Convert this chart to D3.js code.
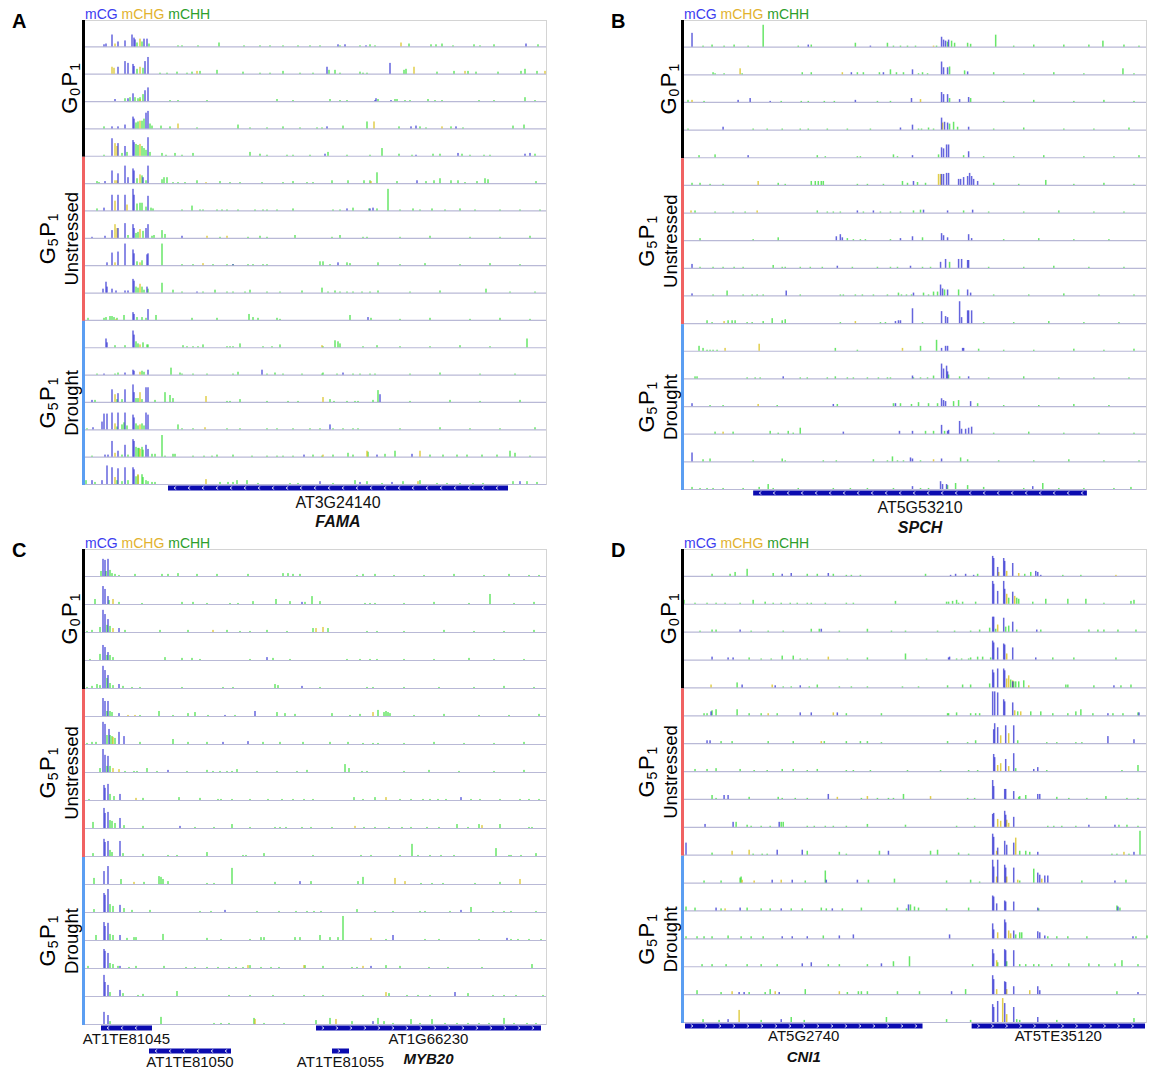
<!DOCTYPE html>
<html>
<head>
<meta charset="utf-8">
<script src="https://cdn.jsdelivr.net/npm/d3@7"></script>
<style>
  body { margin: 0; background: #fff; }
  svg { display: block; font-family: "Liberation Sans", Arial, Helvetica, sans-serif; }
</style>
</head>
<body>
<svg id="fig" width="1149" height="1069"></svg>
<script>
// Methylation tracks: one string per sample track, tokens "bin:level"
// bin = 10-bp bin inside the displayed locus (0..462), level = % methylation.

const sampleGroups = ["G0P1", "G5P1 Unstressed", "G5P1 Drought"];
const tracksPerGroup = [5, 6, 6];
const contexts = ["mCG", "mCHG", "mCHH"];

// ---- A: FAMA locus ----
const famaCG = [
  "20:8 22:11 28:46 34:19 41:23 48:46 50:34 51:27 60:30 63:30 254:8 261:8 282:4 442:11",
  "34:27 41:49 44:42 49:38 50:30 61:49 64:65 243:27 306:42",
  "31:8 44:11 49:30 61:42 64:53 291:4 292:11 307:4",
  "28:8 34:8 41:15 49:46 50:38 62:61 64:68 243:8 327:8 332:11 372:8",
  "28:68 34:49 41:38 49:61 50:53 64:72 241:8 332:4 374:11 441:8 446:11",
  "21:8 28:49 34:38 41:68 44:23 49:57 50:49 59:23 64:68 333:11",
  "20:11 28:61 34:61 41:61 49:84 50:61 64:57 263:8 286:8 289:11",
  "8:4 21:8 28:30 34:38 41:57 49:53 50:38 62:38 64:53 98:8",
  "23:11 28:49 34:53 41:84 49:61 50:46 63:42 64:46 149:4 254:11",
  "19:15 22:42 23:23 28:15 32:8 41:8 44:8 49:53 50:46 63:23 113:4",
  "49:30 50:23 64:42 284:11",
  "22:34 23:19 49:65 50:49",
  "20:4 41:8 49:19 50:15 64:19 178:19 259:8",
  "8:8 28:49 34:34 41:49 49:68 50:38 62:57 64:57 296:30",
  "9:8 18:30 20:61 23:61 28:65 34:65 41:65 49:57 50:46 62:65 64:57 246:19",
  "21:8 24:8 28:61 34:23 41:46 49:68 50:61 62:46 64:30 220:8 293:8 328:11",
  "8:15 18:15 23:72 28:65 34:61 41:65 49:65 50:57 236:11 276:8 308:8 436:11"
];
const famaCHG = [
  "31:11 56:30 317:15",
  "28:27 30:23 56:27 113:11 330:27 381:11 461:11",
  "56:8",
  "56:30 94:19 290:27 358:8",
  "31:49 33:38 56:46",
  "31:11 33:11 56:34 122:4 287:8",
  "31:38 43:23",
  "31:53 33:38 56:34 123:8 143:8",
  "31:11 56:11 119:8",
  "56:34",
  "32:4",
  "56:11 238:8",
  "56:11",
  "31:30 56:38 122:23 239:19",
  "31:23 56:19 121:8",
  "31:15 56:30 239:8 283:23 336:23",
  "31:27 54:38 122:19 334:11"
];
const famaCHH = [
  "53:15 58:19 65:11 94:4 98:4 114:4 135:15 160:4 176:4 186:4 199:4 214:4 226:4 236:4 256:4 276:4 286:8 291:4 325:11 347:8 352:8 358:11 369:4 390:8 396:4 410:8 454:8",
  "53:19 59:23 76:4 83:4 93:8 103:4 108:8 116:11 133:15 159:8 176:4 186:4 199:11 216:4 229:4 245:15 251:15 256:4 276:8 279:4 283:4 320:15 322:19 353:8 370:11 384:11 392:8 414:8 437:11 441:19 453:11",
  "41:11 46:15 51:15 54:11 56:15 59:27 86:4 94:4 123:4 193:8 209:4 246:8 256:4 263:4 294:8 311:8 313:8 321:4 326:4 344:8 351:4 358:4 395:4 410:4 441:15 451:4",
  "20:8 52:23 54:27 58:30 60:38 66:19 68:11 77:11 86:8 113:4 154:15 166:4 183:4 199:8 216:4 233:4 238:4 259:11 283:27 315:8 336:8 342:4 367:8 379:4 429:11 440:15",
  "20:4 38:11 43:15 52:46 54:42 58:38 60:30 62:23 66:15 78:11 82:4 91:11 98:4 109:11 166:15 176:8 183:4 203:4 209:4 226:4 244:15 263:4 286:4 298:30 315:8 328:4 349:8 356:8 378:8 386:4 400:4 406:4 451:8",
  "13:8 15:4 53:19 58:30 62:11 78:15 80:23 83:23 89:4 94:4 101:4 113:11 136:8 146:4 156:4 178:4 199:4 209:8 223:4 229:4 248:11 264:11 280:11 286:11 293:42 313:8 342:8 350:11 356:19 367:11 374:11 381:4 393:8 401:19 404:15 452:8",
  "13:8 53:27 56:30 58:30 62:15 67:11 69:8 98:4 108:19 116:4 119:4 133:4 138:4 143:4 154:4 171:4 179:4 183:4 193:4 209:8 249:4 256:4 269:11 285:8 293:8 304:84 316:4 329:8 336:4 348:8 361:4 376:8 391:4 416:4 436:4 456:4",
  "44:11 52:19 54:23 59:27 68:8 70:11 78:30 81:15 136:4 164:4 176:8 183:4 211:11 248:4 256:11 279:4 283:4 316:4 346:8 386:4 416:4 446:8",
  "53:15 58:19 78:84 98:4 109:4 129:4 143:4 149:4 164:4 169:4 179:4 183:4 236:15 239:15 246:4 263:11 266:8 294:11 316:4 341:8 376:4 406:8 436:4",
  "52:23 54:19 58:23 60:11 64:15 78:38 89:11 98:4 119:4 131:11 143:4 149:4 161:4 166:11 183:4 196:4 218:8 238:19 244:4 251:8 256:4 263:4 269:4 278:4 286:4 294:8 326:4 356:8 402:15 426:4 451:4",
  "4:8 20:8 22:11 26:15 28:15 30:11 33:8 40:19 53:11 58:11 62:8 72:19 108:8 133:8 165:23 169:11 174:8 193:8 196:4 266:19 287:8 316:4 346:8 386:4 416:8 446:4",
  "31:8 41:8 52:23 54:15 59:19 63:11 64:11 99:8 103:4 109:4 114:4 119:11 143:4 146:4 149:4 156:15 179:4 188:4 196:11 239:4 251:27 254:23 256:15 279:4 293:8 316:4 346:4 376:8 406:4 443:34",
  "13:4 31:4 34:8 58:15 60:11 87:27 96:8 98:4 109:4 123:4 149:4 154:11 183:4 191:8 199:4 218:4 238:4 239:8 253:4 269:4 276:4 286:4 291:4 326:4 356:8 396:4 431:4",
  "11:8 33:11 38:11 52:15 54:15 58:11 71:8 81:38 86:27 89:15 143:4 146:4 156:11 183:4 204:4 214:4 246:11 250:4 263:4 271:4 274:4 289:8 294:46 326:4 366:8 396:4 436:8",
  "3:4 33:11 38:19 40:27 43:15 52:23 54:15 58:23 60:15 94:19 98:4 109:4 143:4 156:4 183:4 193:4 209:4 226:4 236:4 249:4 259:4 269:4 274:4 316:4 356:8 386:4 416:4 451:8",
  "8:4 38:8 44:8 52:38 54:34 55:34 58:38 59:27 68:11 71:11 78:84 81:4 89:11 91:11 109:4 120:4 128:4 133:8 149:8 168:4 183:4 193:4 199:4 209:4 229:8 238:4 249:8 264:15 269:8 284:19 301:11 311:23 346:8 359:8 373:8 383:8 398:8 413:8 426:23 431:15 446:4",
  "2:15 11:8 33:15 38:11 44:15 52:30 54:34 58:38 59:27 62:15 64:11 68:8 71:8 136:8 144:8 149:8 153:15 163:15 174:4 206:4 214:4 249:4 271:15 283:11 298:4 319:11 336:15 353:4 363:4 376:4 389:4 399:4 429:11 443:11 453:8"
];
// [id, start bin, end bin, strand, row, symbol]
const famaGenes = [["AT3G24140", 84, 424, "-", 0, "FAMA"]];

// ---- B: SPCH locus ----
const spchCG = [
  "9:53 125:8 187:4 258:38 260:27 262:23 265:27",
  "168:8 200:8 229:19 258:49 260:27 264:27 284:11",
  "55:8 67:15 87:4 172:8 228:15 258:38 260:30 264:30 276:11 285:19",
  "40:11 217:8 229:19 258:46 261:30 264:27 285:11",
  "65:8 229:8 258:38 260:34 263:49 265:49 285:23",
  "230:15 258:42 260:42 263:46 265:46 275:23 277:23 280:30 284:34 286:46 288:34 290:23 294:15",
  "174:8 190:8 240:11 264:8 289:11",
  "153:15 157:23 159:11 217:8 229:15 258:27 260:19 264:11 285:23 288:8",
  "9:15 154:8 227:8 257:23 262:34 275:34 278:34 284:30 285:30",
  "9:8 103:19 230:11 257:42 259:27 264:23 284:23 287:11",
  "212:8 215:11 217:11 229:57 258:46 262:27 264:23 276:84 278:23 284:49 285:49 288:49",
  "258:11 262:19 264:19 279:11 280:11",
  "100:8 229:11 258:57 260:38 263:49 264:27 285:8",
  "9:11 150:8 212:11 258:30 260:23 262:19 287:19",
  "160:8 216:11 229:11 258:34 264:11 265:15 276:49 278:19 282:19 285:23 288:27",
  "9:34 227:15 229:11 258:11",
  "229:11 257:30 259:19 263:19 349:11"
];
const spchCHG = [
  "250:4", "57:23 159:8", "9:8 237:11", "259:27", "", "75:15 255:42 257:42",
  "8:8 74:8", "", "", "", "41:8 172:8", "42:11 76:27 219:11", "", "75:8", "40:8", "250:8", ""
];
const spchCHH = [
  "20:4 29:8 41:4 51:8 65:4 80:84 115:4 128:8 172:15 204:15 210:4 217:4 224:4 232:4 253:4 264:19 268:23 271:15 284:15 287:11 312:46 330:4 350:8 380:8 405:8 419:23 440:8 455:4",
  "30:8 32:4 41:4 59:4 119:8 128:8 174:8 180:8 196:8 207:19 213:8 220:8 235:4 239:8 244:4 266:30 281:15 310:8 340:4 370:8 400:4 439:23 450:4",
  "5:8 21:4 98:4 118:4 125:4 141:4 151:4 194:4 207:4 266:15 287:15 320:4 350:8 390:4 420:8 450:4",
  "5:4 70:4 84:4 99:4 117:4 125:4 144:4 164:4 187:4 235:4 238:4 245:8 250:4 266:23 270:30 274:11 310:4 340:8 380:4 410:4 445:8",
  "16:8 32:11 134:8 142:4 174:4 177:4 210:11 214:4 255:11 280:8 300:4 330:4 360:8 400:4 430:4 455:8",
  "9:8 17:8 27:4 40:4 95:8 102:4 128:15 132:15 135:15 138:15 140:15 174:4 184:4 200:4 219:15 224:8 234:11 242:8 310:8 335:4 362:19 390:4 420:8 450:4",
  "12:8 32:4 50:4 62:4 134:8 144:4 150:4 157:4 180:4 197:4 207:4 217:4 230:8 237:11 280:8 305:4 340:4 375:8 410:4 440:4",
  "17:8 70:4 95:11 164:8 170:4 177:4 182:4 207:4 239:11 320:4 355:8 390:4 425:4",
  "17:4 30:4 40:4 51:4 60:4 90:11 99:4 102:4 117:4 127:4 139:4 169:4 194:4 207:4 214:4 239:4 247:4 266:23 305:4 340:4 370:8 405:4 440:4",
  "30:4 44:19 60:4 69:4 74:4 80:4 117:4 157:4 160:4 172:4 179:4 190:4 204:4 215:11 218:4 223:4 228:4 240:11 245:4 250:15 254:15 261:23 275:23 310:4 345:4 380:8 415:4 450:4",
  "24:11 29:4 45:11 49:11 52:11 64:4 69:4 80:8 89:19 99:11 102:15 157:4 197:4 202:4 239:4 300:4 330:4 365:8 400:4 435:4",
  "16:19 20:11 24:4 27:4 30:4 34:4 152:11 174:4 237:19 253:42 295:8 320:4 350:4 390:8 420:4 450:8",
  "12:8 14:8 64:4 72:4 77:4 117:4 124:4 144:4 152:8 164:4 170:4 184:4 195:4 204:4 207:4 230:4 237:4 244:4 250:11 265:15 276:8 305:4 340:8 375:4 410:4 445:4",
  "27:4 40:4 94:4 154:8 210:11 217:11 228:8 235:15 245:11 254:11 270:19 275:23 294:11 320:4 355:4 390:8 425:4",
  "32:8 50:8 87:11 95:4 105:11 110:4 117:23 242:11 250:11 261:11 310:4 345:8 380:4 415:4 450:4",
  "20:8 27:11 70:4 99:11 102:4 140:4 153:4 190:8 204:4 209:19 214:4 220:4 237:4 277:15 284:8 315:4 350:4 385:8 420:4 455:4",
  "9:8 17:4 24:4 30:4 40:4 60:4 76:8 85:19 90:4 115:4 150:4 167:4 184:4 210:4 237:4 245:4 264:15 272:23 284:15 300:8 340:4 359:23 375:4 400:4 430:4 447:8"
];
const spchGenes = [["AT5G53210", 70, 403, "-", 0, "SPCH"]];

// ---- C: MYB20 locus ----
const myb20CG = [
  "19:65 21:61 24:65",
  "19:68 21:57 24:30 218:8",
  "19:84 21:68 24:49 35:15",
  "19:57 21:49 24:30 183:11",
  "19:84 21:68 24:49 35:15 218:8",
  "19:68 21:57 24:57 35:11 141:4 171:19",
  "19:84 21:76 25:57 35:46 40:30 139:8 164:11",
  "19:87 21:65 24:61 84:8",
  "20:57 21:46 24:61 36:23 377:11",
  "20:76 21:57 24:61 36:38 96:8",
  "20:65 21:53 24:57 36:57",
  "20:49 24:68 216:11",
  "20:72 21:65 24:87 36:27 141:8 377:8",
  "20:68 21:53 24:65 36:19 309:19 423:8",
  "20:72 21:65 24:57 36:8 287:8",
  "20:80 21:53 24:42 36:23 371:15",
  "20:46 24:34 289:11"
];
const myb20CHG = [
  "", "29:19", "29:15 129:8 232:15 239:19", "", "", "44:4 51:4 289:15", "29:27", "29:15 35:11",
  "52:8 302:11", "271:8 398:11", "", "50:8 311:23 321:11 436:19", "", "287:8", "164:11 220:11 279:8", "302:15", "171:19 252:19"
];
const myb20CHH = [
  "17:19 22:19 26:23 28:11 31:8 35:4 51:8 78:8 84:8 94:11 113:8 133:8 164:8 199:11 204:11 209:8 216:8 273:4 279:8 291:8 310:4 340:4 370:8 400:4 425:8 445:4 455:4",
  "11:19 25:15 35:8 58:4 98:8 109:8 123:4 146:4 154:4 169:11 192:19 206:11 221:8 228:30 236:11 281:4 286:4 291:4 320:4 350:8 385:4 406:38 430:4 450:8",
  "3:4 8:8 16:19 23:27 26:23 41:8 76:8 104:8 143:8 156:4 166:4 183:8 203:4 229:15 244:15 283:4 293:4 320:4 360:8 390:4 420:4 450:8",
  "6:4 16:23 23:19 26:19 29:11 81:11 98:8 108:8 116:4 166:4 189:8 206:4 263:4 276:4 286:4 293:4 320:4 350:4 385:8 410:4 440:4",
  "3:4 8:8 13:15 16:11 23:38 26:19 29:11 39:8 48:4 56:4 98:4 139:4 149:4 191:15 194:11 236:4 283:4 289:4 320:4 355:4 390:4 420:8 450:4",
  "23:19 26:19 28:15 56:4 75:19 89:4 104:11 111:15 124:4 151:4 193:15 201:11 211:8 248:11 266:4 276:8 294:23 300:15 302:19 304:15 306:11 330:4 360:8 395:4 425:4 455:8",
  "3:4 8:8 12:8 23:34 26:34 28:30 31:23 56:8 89:19 104:8 123:8 179:8 196:8 219:8 246:8 264:8 279:4 289:4 294:4 320:4 350:8 380:4 410:4 440:8",
  "16:15 23:23 26:23 41:4 50:4 53:4 63:15 73:4 103:4 123:8 129:4 136:4 143:4 148:4 153:11 173:4 193:4 213:4 223:8 261:30 265:15 278:4 283:4 320:4 345:8 375:4 410:4 440:8",
  "5:4 26:23 30:15 59:8 95:11 116:8 134:4 137:4 148:4 166:4 184:4 198:4 209:4 220:4 229:4 270:11 279:4 291:11 316:4 327:4 339:4 346:4 354:4 362:4 387:4 396:4 416:4 436:4 445:4 455:4",
  "9:23 26:30 28:27 31:19 40:11 59:8 111:4 130:4 148:15 166:4 191:4 196:4 202:4 218:4 227:4 248:4 280:4 291:4 305:4 318:4 327:4 343:4 355:4 373:15 384:4 395:15 416:15 445:4 448:4",
  "9:11 26:23 28:15 39:11 59:8 84:4 93:4 123:15 159:4 162:4 180:11 229:4 277:4 287:4 316:4 328:46 334:4 346:4 357:4 370:4 412:30 425:4 427:4 437:4 452:11",
  "10:23 37:19 60:8 75:30 77:27 79:19 84:11 123:4 130:4 148:61 191:8 227:11 274:11 279:27 337:4 348:4 359:4 391:4 416:8",
  "10:11 26:30 29:23 40:15 48:8 66:8 116:4 127:4 173:4 195:4 212:4 223:4 230:4 237:4 273:11 291:4 309:4 336:4 341:4 366:4 387:19 409:4 420:4 427:4 452:4",
  "12:19 26:23 29:19 43:8 50:11 52:11 79:23 123:8 137:4 166:4 177:11 180:11 211:11 216:11 236:19 246:11 254:11 259:91 302:4 341:4 355:4 395:4 427:4 434:4 445:4 457:4",
  "4:8 26:19 29:15 34:8 45:4 52:8 80:8 102:4 111:4 123:4 134:4 145:4 152:4 159:4 166:11 177:4 187:4 195:4 221:11 239:8 268:4 273:4 302:11 316:8 345:4 364:4 398:4 448:15",
  "26:15 39:11 54:4 59:8 93:19 145:4 166:4 189:4 220:4 239:4 279:4 305:11 323:4 334:4 346:4 384:11 409:4 420:4 432:4 459:4",
  "26:11 77:27 130:4 137:4 145:4 170:23 180:4 200:4 232:15 246:23 268:11 294:23 300:11 309:4 327:19 336:4 348:19 361:4 373:4 384:4 395:4 405:4 420:23 430:4 443:4 452:4"
];
const myb20Genes = [
  ["AT1TE81045", 17, 68, "-", 0, ""],
  ["AT1TE81050", 65, 147, "-", 1, ""],
  ["AT1TE81055", 248, 265, "+", 1, ""],
  ["AT1G66230", 232, 457, "+", 0, "MYB20"]
];

// ---- D: CNI1 locus ----
const cni1CG = [
  "99:8 108:11 145:11 267:4 272:8 282:8 290:4 309:76 310:68 314:34 320:68 321:57 329:49 352:19 354:15 357:4",
  "309:87 310:76 314:49 320:87 321:57 329:46",
  "57:8 138:11 309:57 310:57 320:53 329:38 353:8",
  "29:11 45:8 50:8 265:8 266:11 309:72 310:65 314:46 320:61 321:57 329:46 352:8",
  "59:11 92:8 117:8 309:68 310:57 314:72 320:72 321:65 329:23 430:8",
  "28:15 117:11 128:11 154:11 309:91 311:91 314:87 320:61 321:53 329:49 424:8 455:11",
  "24:11 27:11 310:53 311:76 314:61 322:68 330:68 424:27 450:15",
  "310:65 311:53 322:46 330:68 350:8 354:15",
  "41:15 45:15 145:19 309:72 310:49 321:38 322:38 330:30 354:19 356:19",
  "22:11 50:19 96:19 309:49 310:53 321:61 322:46 330:38 405:8 431:8",
  "3:46 94:19 119:19 205:15 309:80 310:68 314:27 321:53 323:38 330:46 354:11 450:11",
  "89:11 109:11 143:11 174:11 309:87 310:61 314:87 321:68 322:57 330:57 354:38 356:30 361:27 364:27 431:8",
  "33:11 57:11 98:8 149:8 225:23 309:57 310:53 313:27 321:38 322:34 330:34 354:11 434:15",
  "99:8 109:8 124:8 156:11 170:15 266:15 309:57 310:34 321:72 322:61 330:30 354:27 356:23 361:11 449:8",
  "119:11 128:15 198:11 309:65 310:49 321:65 322:61 330:61",
  "56:8 61:8 96:8 268:11 309:72 310:57 321:49 322:46 330:30 354:30 356:15 454:8",
  "45:11 98:11 309:68 310:57 314:80 321:72 330:57 354:19"
];
const cni1CHG = [
  "315:15 323:19 335:11 432:4",
  "323:38 331:30",
  "314:27",
  "145:11 323:23",
  "28:11 89:11 323:34 325:46 329:27 345:8",
  "85:8 150:11 331:19 337:15",
  "138:8 317:30 325:38",
  "314:23 317:30 325:19",
  "154:8 184:11 247:11",
  "314:30 317:23 323:27 325:15",
  "49:15 66:19 313:15 332:65 440:11",
  "59:11 71:8 98:11 313:23 323:23 334:11 358:15",
  "42:8",
  "314:23 325:30 327:19",
  "313:23",
  "49:11 92:11 156:11 313:19 323:19 346:15",
  "56:46 319:91 323:30"
];
const cni1CHH = [
  "29:8 47:8 52:15 64:27 90:11 124:8 134:8 150:8 163:4 168:4 177:4 242:8 294:8 341:8 347:15 379:4 397:4",
  "1:15 12:4 24:4 33:4 42:4 57:4 70:15 82:8 90:4 98:4 107:4 114:4 124:4 128:4 142:4 163:4 170:4 212:11 263:8 265:8 269:11 273:15 275:4 279:8 292:8 325:23 333:23 335:19 349:8 362:19 384:19 402:19 420:4 447:11 450:15",
  "17:4 29:8 33:8 68:4 85:4 100:4 128:11 136:11 156:4 184:11 208:4 222:4 254:4 271:4 287:4 296:8 306:15 312:11 322:19 325:23 333:8 357:8 405:8 414:8 420:8 434:8 452:8",
  "66:8 78:4 88:4 99:15 110:15 117:4 124:4 164:4 184:8 222:23 243:4 273:4 278:4 285:4 287:8 294:11 299:11 307:8 369:8 390:8 432:8",
  "54:19 100:4 108:4 126:4 134:11 156:4 168:4 184:4 219:4 235:4 264:8 279:11 287:11 306:15 327:30 330:23 332:23 335:23 340:27 382:11 384:11 410:8 437:8 447:11",
  "21:8 24:8 29:19 33:23 54:23 66:8 78:8 94:8 163:8 198:8 264:8 265:8 273:11 287:8 292:8 296:8 334:15 347:15 357:15 369:8 384:8 392:15 397:23 409:8 429:8 439:8 454:11",
  "38:8 49:8 85:8 110:8 141:8 163:8 177:8 184:8 198:4 264:8 284:4 292:11 334:11 363:4 373:4 392:4 398:4",
  "12:8 24:8 33:11 57:8 71:4 84:4 99:8 110:8 124:4 134:8 163:4 170:4 187:4 224:4 257:4 285:4 294:4 332:11 363:4 438:4 454:23",
  "29:15 33:4 66:8 95:8 99:4 112:4 124:4 178:4 194:4 205:4 210:4 220:19 284:4 291:4 335:8 336:11 342:15 373:8 385:4 403:4 422:11 443:4 454:4",
  "53:19 64:8 68:4 78:4 87:4 98:19 100:19 124:4 131:4 142:4 150:4 163:4 184:11 222:8 273:4 291:4 364:4 370:4 378:4 392:4 435:8 443:8 454:4",
  "29:8 70:4 79:4 84:4 124:15 156:11 163:4 196:15 247:15 254:19 275:8 285:4 336:15 342:15 346:11 428:4 433:4 445:4 456:91",
  "21:8 38:8 57:19 58:23 122:8 142:46 185:11 211:15 263:8 287:11 296:4 336:8 350:53 398:8 442:11",
  "3:15 12:11 38:8 64:11 78:8 87:8 108:8 119:8 138:11 143:8 159:8 178:11 214:11 223:8 227:23 231:15 235:11 263:8 285:11 355:8 433:19 436:11",
  "3:8 14:8 21:8 29:8 45:11 58:8 68:8 80:8 140:11 332:15 336:23 338:23 364:8 373:8 384:8 403:8 452:8 463:11",
  "19:8 29:8 43:8 64:8 78:8 94:8 145:8 156:8 184:8 210:19 226:38 289:8 314:15 323:19 336:8 342:8 350:8 355:8 368:8 385:11 405:11 415:8 431:11 438:23 454:8",
  "14:15 38:8 66:8 82:8 87:19 122:19 164:8 175:11 178:11 184:11 214:11 236:11 282:19 433:11",
  "20:11 36:8 78:8 108:19 121:8 203:19 263:11 287:8 333:11 336:8 373:8 450:15"
];
const cni1Genes = [
  ["AT5G2740", 2, 239, "+", 0, "CNI1"],
  ["AT5TE35120", 288, 461, "+", 0, ""]
];

const regionBins = 462;

// ---------------------------------------------------------------------------
const svg = d3.select("#fig");
const contextColor = { mCG: "#3232d2", mCHG: "#d8c01a", mCHH: "#2edc2e" };
const contextOpacity = { mCG: 0.75, mCHG: 0.78, mCHH: 0.72 };
const legendColor = { mCG: "#3c3cf0", mCHG: "#e2b22e", mCHH: "#2c9e2c" };
const groupColor = ["#000000", "#f06262", "#5b9ef2"];

const panels = [
  { letter: "A", x0: 84, x1: 546, top: 20, bottom: 485, data: { mCG: famaCG, mCHG: famaCHG, mCHH: famaCHH }, genes: famaGenes, labelSize: 16, lab0: 23, lab1: 42, sym: 42 },
  { letter: "B", x0: 683, x1: 1146, top: 20, bottom: 490, data: { mCG: spchCG, mCHG: spchCHG, mCHH: spchCHH }, genes: spchGenes, labelSize: 16, lab0: 23, lab1: 42, sym: 43 },
  { letter: "C", x0: 84, x1: 546, top: 549, bottom: 1025, data: { mCG: myb20CG, mCHG: myb20CHG, mCHH: myb20CHH }, genes: myb20Genes, labelSize: 15, lab0: 19, lab1: 42, sym: 39 },
  { letter: "D", x0: 683, x1: 1146, top: 549, bottom: 1023, data: { mCG: cni1CG, mCHG: cni1CHG, mCHH: cni1CHH }, genes: cni1Genes, labelSize: 15, lab0: 18, lab1: 41, sym: 39 }
];

const parseTrack = s => s.trim() === "" ? [] :
  s.trim().split(/\s+/).map(t => { const [b, v] = t.split(":").map(Number); return { bin: b, level: v }; });

// "G<digit>P1" with subscripted generation / population numbers
function subLabel(text, digit) {
  text.append("tspan").text("G");
  text.append("tspan").attr("font-size", 14).attr("dy", 3).attr("dx", 1).text(digit);
  text.append("tspan").attr("dy", -3).attr("dx", 1.5).text("P");
  text.append("tspan").attr("font-size", 14).attr("dy", 3).attr("dx", 1).text("1");
}

panels.forEach(p => {
  const g = svg.append("g");
  const nTracks = d3.sum(tracksPerGroup);
  const th = (p.bottom - p.top) / nTracks;
  const x = d3.scaleLinear().domain([0, regionBins]).range([p.x0, p.x1]);
  const y = d3.scaleLinear().domain([0, 100]).range([0, th - 1.6]);

  // panel letter
  g.append("text").attr("x", p.x0 - 72).attr("y", p.top + 8)
    .attr("font-size", 20).attr("font-weight", "bold").text(p.letter);

  // legend
  const leg = g.append("text").attr("x", p.x0 + 1).attr("y", p.top - 1.5).attr("font-size", 14);
  contexts.forEach((c, i) => {
    leg.append("tspan").attr("fill", legendColor[c]).text((i ? " " : "") + c);
  });

  // frame rules
  g.append("line").attr("x1", p.x0).attr("x2", p.x1).attr("y1", p.top + 0.5).attr("y2", p.top + 0.5)
    .attr("stroke", "#d4d4d4").attr("stroke-width", 1);
  g.append("line").attr("x1", p.x1 + 0.5).attr("x2", p.x1 + 0.5).attr("y1", p.top).attr("y2", p.bottom)
    .attr("stroke", "#d4d4d4").attr("stroke-width", 1);

  // tracks
  for (let i = 0; i < nTracks; i++) {
    const base = p.top + (i + 1) * th;
    g.append("line").attr("x1", p.x0).attr("x2", p.x1).attr("y1", base - 0.5).attr("y2", base - 0.5)
      .attr("stroke", "#b9b9d6").attr("stroke-width", 1.2);
    ["mCHH", "mCHG", "mCG"].forEach(c => {
      const pts = parseTrack(p.data[c][i]);
      g.append("g").selectAll("rect").data(pts).join("rect")
        .attr("x", d => x(d.bin) - 0.75)
        .attr("width", 1.5)
        .attr("y", d => base - 1 - y(d.level))
        .attr("height", d => y(d.level))
        .attr("fill", contextColor[c])
        .attr("fill-opacity", contextOpacity[c]);
    });
  }

  // sample group bars and labels
  let start = 0;
  tracksPerGroup.forEach((n, gi) => {
    const y0 = p.top + start * th, y1 = p.top + (start + n) * th;
    g.append("rect").attr("x", p.x0 - 2).attr("width", 3).attr("y", y0).attr("height", y1 - y0)
      .attr("fill", groupColor[gi]);
    const cy = (y0 + y1) / 2;
    const parts = sampleGroups[gi].split(" ");
    const digit = parts[0].charAt(1);
    if (parts.length === 1) {
      const t = g.append("text").attr("text-anchor", "middle").attr("font-size", 22)
        .attr("transform", `translate(${p.x0 - 7},${cy}) rotate(-90)`);
      subLabel(t, digit);
    } else {
      const t = g.append("text").attr("text-anchor", "middle").attr("font-size", 22)
        .attr("transform", `translate(${p.x0 - 29},${cy}) rotate(-90)`);
      subLabel(t, digit);
      g.append("text").attr("text-anchor", "middle").attr("font-size", 18.5)
        .attr("transform", `translate(${p.x0 - 6},${cy}) rotate(-90)`).text(parts[1]);
    }
    start += n;
  });

  // gene models
  p.genes.forEach(([id, s, e, strand, row, symbol]) => {
    const xs = x(s), xe = x(e);
    const gy = p.bottom + 0.5 + row * 23;
    g.append("rect").attr("x", xs).attr("y", gy).attr("width", xe - xs).attr("height", 5)
      .attr("fill", "#0b0bb0");
    const marks = d3.range(xs + 7, xe - 3, 14);
    g.append("g").selectAll("path").data(marks).join("path")
      .attr("d", m => strand === "-" ? `M${m + 1.2},${gy + 1} L${m - 1},${gy + 2.5} L${m + 1.2},${gy + 4}`
                                     : `M${m - 1.2},${gy + 1} L${m + 1},${gy + 2.5} L${m - 1.2},${gy + 4}`)
      .attr("fill", "none").attr("stroke", "#ffffff").attr("stroke-width", 0.8);
    const cx = (xs + xe) / 2;
    g.append("text").attr("x", cx).attr("y", p.bottom + (row ? p.lab1 : p.lab0))
      .attr("text-anchor", "middle").attr("font-size", p.labelSize).attr("fill", "#111").text(id);
    if (symbol) {
      g.append("text").attr("x", cx).attr("y", p.bottom + p.sym)
        .attr("text-anchor", "middle").attr("font-size", p.labelSize)
        .attr("font-weight", "bold").attr("font-style", "italic").attr("fill", "#111").text(symbol);
    }
  });
});
</script>
</body>
</html>
